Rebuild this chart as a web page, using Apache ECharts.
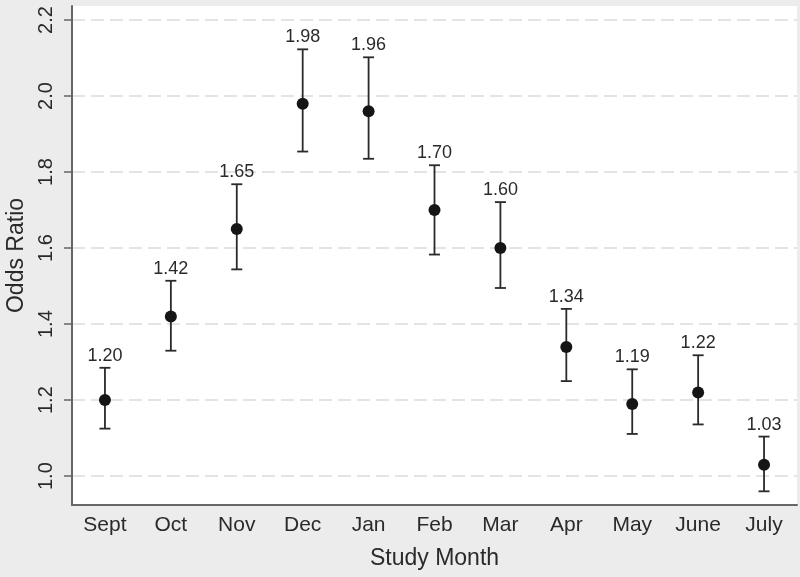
<!DOCTYPE html>
<html>
<head>
<meta charset="utf-8">
<script src="https://cdn.jsdelivr.net/npm/echarts@6/dist/echarts.min.js"></script>
<style>
html,body{margin:0;padding:0;background:#ececec;}
#chart{width:800px;height:577px;}
</style>
</head>
<body>
<div id="chart"></div>
<script>
var months = ['Sept','Oct','Nov','Dec','Jan','Feb','Mar','Apr','May','June','July'];
var oddsRatio = [1.20,1.42,1.65,1.98,1.96,1.70,1.60,1.34,1.19,1.22,1.03];
var ciLower = [1.125,1.330,1.544,1.854,1.835,1.583,1.495,1.250,1.111,1.136,0.960];
var ciUpper = [1.285,1.514,1.768,2.123,2.102,1.818,1.721,1.440,1.281,1.318,1.104];
var yTicks = [1.0,1.2,1.4,1.6,1.8,2.0,2.2];

var font = 'Liberation Sans, Arial, Helvetica, sans-serif';
var chart = echarts.init(document.getElementById('chart'), null, {renderer:'canvas'});

var errData = months.map(function(m,i){ return [i, ciLower[i], ciUpper[i], oddsRatio[i]]; });

chart.setOption({
  backgroundColor:'#ececec',
  animation:false,
  grid:{left:72,right:3,top:6,bottom:72,show:true,backgroundColor:'#ffffff',borderWidth:0,
    containLabel:false, outerBoundsMode:'none'},
  xAxis:{
    type:'category', data:months, boundaryGap:true,
    name:'Study Month', nameLocation:'middle', nameGap:42,
    nameTextStyle:{fontFamily:font,fontSize:23,color:'#2a2a2a'},
    axisLine:{lineStyle:{color:'#666',width:2}},
    axisTick:{alignWithLabel:true,length:8,lineStyle:{color:'#666',width:1.5}},
    axisLabel:{fontFamily:font,fontSize:21,color:'#2a2a2a',margin:10},
    splitLine:{show:false}
  },
  yAxis:{
    type:'value', min:0.924, max:2.237,
    name:'Odds Ratio', nameLocation:'middle', nameGap:38, nameRotate:90,
    nameTextStyle:{fontFamily:font,fontSize:23,color:'#2a2a2a'},
    axisLine:{show:true,lineStyle:{color:'#666',width:2}},
    axisTick:{show:true,length:8,customValues:yTicks,lineStyle:{color:'#666',width:1.5}},
    axisLabel:{fontFamily:font,fontSize:20,color:'#2a2a2a',rotate:90,margin:16,customValues:yTicks,
      formatter:function(v){return v.toFixed(1);}},
    splitLine:{show:true,lineStyle:{color:'#dcdcdc',width:1.5,type:[13,6]}}
  },
  series:[
    {
      type:'custom',
      data:errData,
      renderItem:function(params, api){
        var lo = api.coord([api.value(0), api.value(1)]);
        var hi = api.coord([api.value(0), api.value(2)]);
        var hw = 5.5;
        var st = {stroke:'#2a2a2a', lineWidth:1.8};
        return {
          type:'group',
          children:[
            {type:'line', shape:{x1:hi[0],y1:hi[1],x2:lo[0],y2:lo[1]}, style:st},
            {type:'line', shape:{x1:hi[0]-hw,y1:hi[1],x2:hi[0]+hw,y2:hi[1]}, style:st},
            {type:'line', shape:{x1:lo[0]-hw,y1:lo[1],x2:lo[0]+hw,y2:lo[1]}, style:st},
            {type:'text', x:hi[0], y:hi[1]-3, style:{text:api.value(3).toFixed(2), fill:'#2a2a2a',
              font:'18px '+font, textAlign:'center', textVerticalAlign:'bottom'}}
          ]
        };
      },
      z:2
    },
    {
      type:'scatter',
      data:oddsRatio,
      symbol:'circle', symbolSize:12,
      itemStyle:{color:'#151515',opacity:1},
      z:3
    }
  ]
});
</script>
</body>
</html>
